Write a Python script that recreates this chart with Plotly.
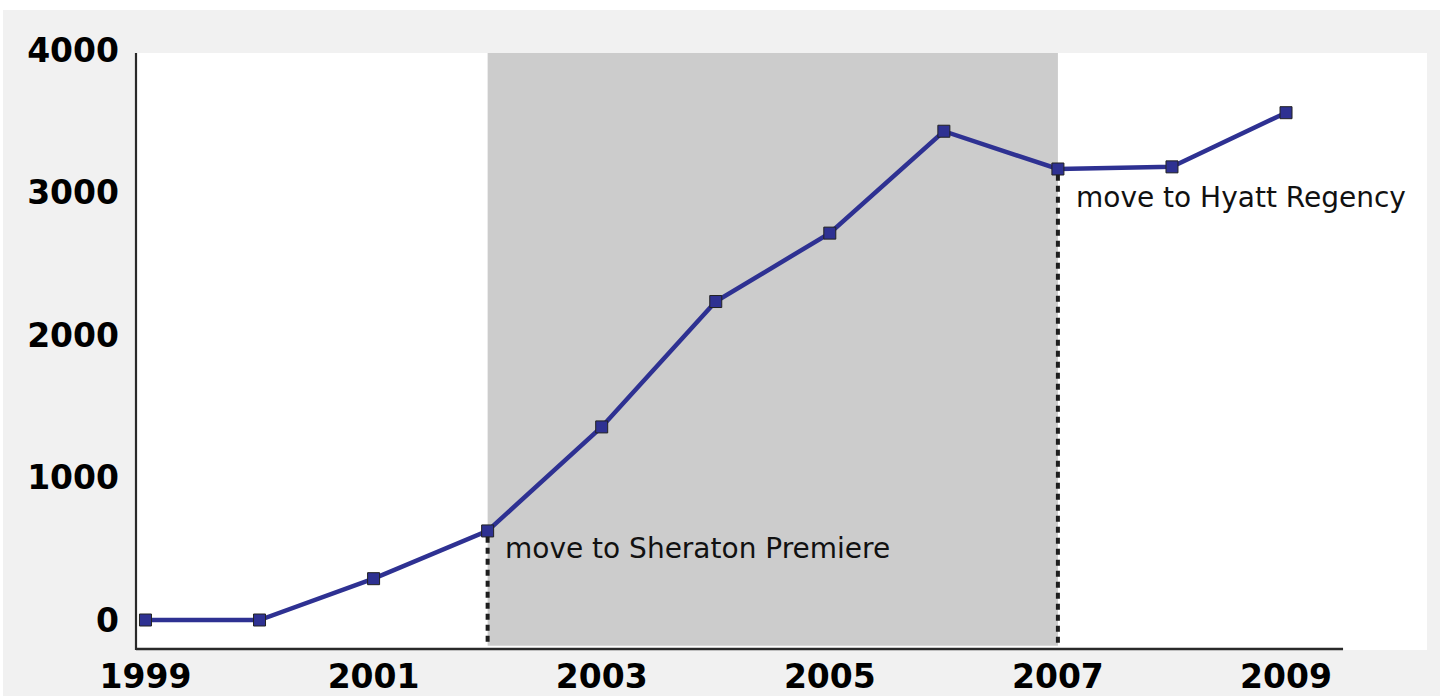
import plotly.graph_objects as go

# ---- data ----
years = [1999, 2000, 2001, 2002, 2003, 2004, 2005, 2006, 2007, 2008, 2009]
attendance = [0, 0, 290, 625, 1355, 2235, 2715, 3430, 3165, 3180, 3560]

x_tick_vals = [1999, 2001, 2003, 2005, 2007, 2009]
x_tick_text = ["1999", "2001", "2003", "2005", "2007", "2009"]
y_tick_vals = [0, 1000, 2000, 3000, 4000]
y_tick_text = ["0", "1000", "2000", "3000", "4000"]

event_years = [2002, 2007]
event_labels = ["move to Sheraton Premiere", "move to Hyatt Regency"]

# ---- styles ----
LINE_COLOR = "#2e3192"
BG_GRAY = "#f1f1f1"
BAND_GRAY = "#cccccc"
AXIS_COLOR = "#2a2a2a"

fig = go.Figure()
fig.add_trace(go.Scatter(
    x=years, y=attendance, mode="lines+markers",
    line=dict(color=LINE_COLOR, width=4.5),
    marker=dict(symbol="square", size=12, color=LINE_COLOR,
                line=dict(color="#222222", width=1)),
    hoverinfo="x+y", showlegend=False,
))

x_range = [1998.917, 2010.236]
y_range = [-210.5, 4070.2]

shapes = []
# white plot panel
shapes.append(dict(type="rect", xref="paper", yref="paper", x0=0, x1=1, y0=0, y1=0.9787,
                   fillcolor="white", line=dict(width=0), layer="below"))
# white strips at top/left of page
shapes.append(dict(type="rect", xref="paper", yref="paper", x0=-0.11, x1=1.02, y0=1.049, y1=1.07,
                   fillcolor="white", line=dict(width=0), layer="below"))
shapes.append(dict(type="rect", xref="paper", yref="paper", x0=-0.11, x1=-0.1030, y0=-0.1, y1=1.07,
                   fillcolor="white", line=dict(width=0), layer="below"))
# shaded period between the two events
shapes.append(dict(type="rect", xref="x", yref="paper", x0=event_years[0], x1=event_years[1],
                   y0=0.007, y1=0.9787, fillcolor=BAND_GRAY, line=dict(width=0), layer="below"))
# dotted event lines from the marker down to the bottom
for ey in event_years:
    val = attendance[years.index(ey)]
    shapes.append(dict(type="line", xref="x", yref="y", x0=ey, x1=ey, y0=val - 40, y1=-180,
                       line=dict(color="#1e1e1e", width=4, dash="6px,5px"), layer="above"))
# axis lines
shapes.append(dict(type="line", xref="paper", yref="paper", x0=0, x1=0, y0=0.0, y1=0.9787,
                   line=dict(color=AXIS_COLOR, width=2.2), layer="above"))
shapes.append(dict(type="line", xref="x", yref="paper", x0=x_range[0], x1=2009.5, y0=0.0016, y1=0.0016,
                   line=dict(color=AXIS_COLOR, width=2.5), layer="above"))

annotations = []
shifts = [(15, -18), (16, -29)]
for ey, lab, (dx, dy) in zip(event_years, event_labels, shifts):
    annotations.append(dict(
        x=ey, y=attendance[years.index(ey)], xref="x", yref="y", text=lab,
        showarrow=False, xanchor="left", yanchor="middle", xshift=dx, yshift=dy,
        font=dict(family="DejaVu Sans", size=28, color="#111111"),
    ))

fig.update_layout(
    width=1440, height=696,
    margin=dict(l=136, r=13, t=40, b=46, autoexpand=False),
    paper_bgcolor=BG_GRAY, plot_bgcolor=BG_GRAY,
    shapes=shapes, annotations=annotations, showlegend=False,
    xaxis=dict(range=x_range, tickvals=x_tick_vals, ticktext=x_tick_text,
               showgrid=False, zeroline=False, showline=False, ticks="",
               ticklabelstandoff=4, automargin=False,
               tickfont=dict(family="DejaVu Sans", size=33, color="black", weight="bold")),
    yaxis=dict(range=y_range, tickvals=y_tick_vals, ticktext=y_tick_text,
               showgrid=False, zeroline=False, showline=False, ticks="",
               ticklabelstandoff=16, automargin=False,
               tickfont=dict(family="DejaVu Sans", size=33, color="black", weight="bold")),
)

fig.write_html("out.html", config={"displayModeBar": False},
               post_script="document.body.style.margin='0px';document.body.style.overflow='hidden';")
